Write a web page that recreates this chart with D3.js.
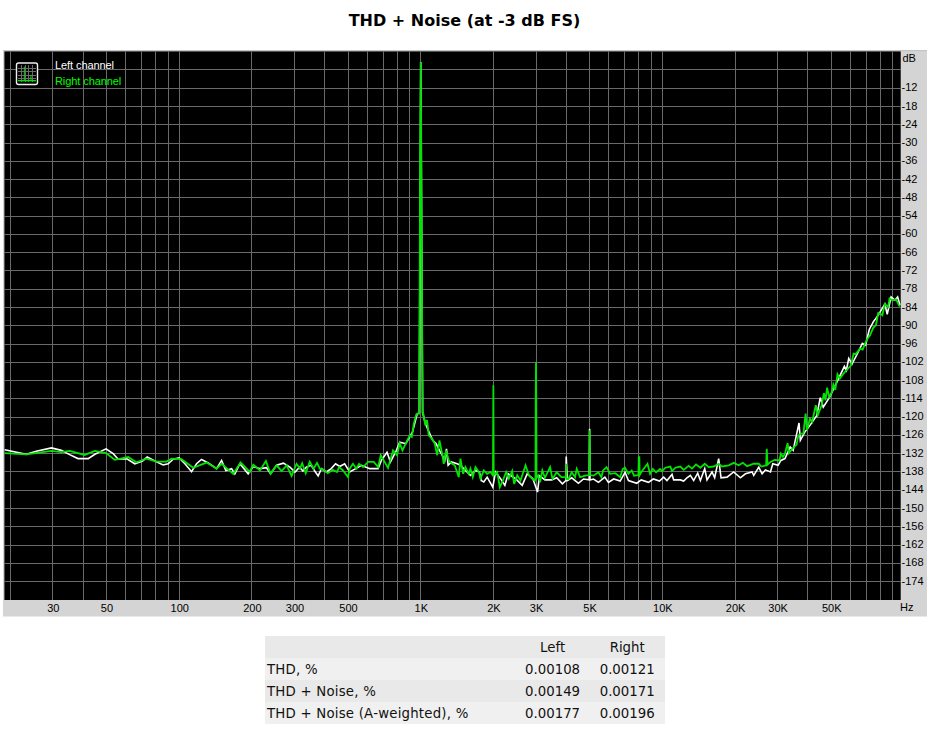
<!DOCTYPE html>
<html><head><meta charset="utf-8">
<script src="https://cdnjs.cloudflare.com/ajax/libs/d3/7.8.5/d3.min.js"></script>
<style>html,body{margin:0;padding:0;background:#fff}svg{display:block}</style>
</head><body><svg id="c" width="937" height="737"></svg>
<script>
const title = "THD + Noise (at -3 dB FS)";
const freqGrid = [20,30,40,50,60,70,80,90,100,200,300,400,500,600,700,800,900,1000,2000,3000,4000,5000,6000,7000,8000,9000,10000,20000,30000,40000,50000,60000,70000,80000,90000];
const freqTicks = [30,50,100,200,300,500,1000,2000,3000,5000,10000,20000,30000,50000];
const freqLabels = ["30","50","100","200","300","500","1K","2K","3K","5K","10K","20K","30K","50K"];
const dbGrid = d3.range(-6,-175,-6);
const dbTicks = d3.range(-12,-175,-6);
const seriesNames = ["Left channel","Right channel"];
const tableHead = ["","Left","Right"];
const tableRows = [
 ["THD, %","0.00108","0.00121"],
 ["THD + Noise, %","0.00149","0.00171"],
 ["THD + Noise (A-weighted), %","0.00177","0.00196"]];

const leftChannel = [[18.95,-130.7],[20.5,-131.3],[23.3,-132.2],[25.6,-131.2],[29.6,-130.1],[32.5,-130.9],[35.2,-132.3],[38.1,-133.6],[42,-133.6],[44.8,-132.2],[49.8,-130.4],[53.3,-132],[55.9,-133.8],[60.5,-133.6],[65.5,-135.3],[70.5,-134.4],[73.7,-133.1],[79.3,-134.4],[85.8,-135.7],[90,-135.3],[94.4,-133.8],[100,-133.4],[105.6,-135.3],[112.5,-137.9],[118,-135.3],[123.7,-133.9],[131.9,-135],[142.8,-136.9],[149.8,-134.2],[156,-137.5],[164.8,-136.9],[170,-138.6],[178.4,-135.3],[193,-138.6],[202.7,-136.2],[216,-136.9],[230,-136.6],[239,-138.6],[253,-135.8],[270,-135.1],[287.4,-136.4],[301.6,-138],
[315,-136.4],[325,-137.7],[336,-136.4],[352,-135.8],[364,-137.7],[376,-139.3],[388,-136.9],[407,-138],[426,-136.9],[444,-135.3],[462,-136.2],[484,-135.3],[508,-138],[538,-136.9],[568,-135.8],[615,-136.9],[666,-136.9],[687,-134.2],[725,-131.5],[749,-134.7],[793,-130.9],[818,-128.2],[867,-128.7],[924,-124.9],[966,-119],[986,-118.5],[1000,-3.4],[1018,-118.5],
[1045,-122.1],[1097,-126],[1121,-127.6],[1158,-128.7],[1195,-130.9],[1226,-132.5],[1257,-134.2],[1278,-130.4],[1298,-135.8],[1340,-134.7],[1414,-135.3],[1460,-135.8],[1531,-137.5],[1606,-139.1],[1685,-137.5],[1750,-138],[1778,-140.8],[1824,-141.3],[1883,-139.7],[1987,-143],[2039,-138],[2139,-140.2],[2229,-142.4],[2301,-138.6],[2468,-140.2],[2630,-142.4],[2758,-138.6],[2912,-140.2],[3044,-144.6],
[3100,-139.2],[3267,-140.6],[3484,-140.6],[3654,-139.9],[3857,-141.9],[3990,-140.8],[4000,-132.9],[4047,-140.8],[4217,-139.9],[4494,-141.7],[4717,-140.3],[4980,-140.6],[5000,-123.8],[5020,-140.6],[5190,-140.3],[5441,-141.4],[5781,-139.7],[5982,-141.4],[6290,-140.3],[6690,-141],[7010,-138.1],[7240,-140.8],[7840,-141.7],[8180,-140.6],[8760,-141.4],[9180,-140.3],[9730,-141],
[10130,-139.7],[10450,-140.8],[10970,-138.8],[11140,-140.6],[11870,-140.6],[12260,-141],[12650,-139.9],[13060,-139.1],[13480,-140.8],[14010,-138.4],[14370,-140.8],[14980,-136.9],[15310,-140.6],[16060,-138],[16470,-139.9],[17110,-133.6],[17500,-139.9],[18530,-139.7],[19740,-138],[21050,-139.9],[22080,-138.6],[23530,-138],[23900,-139.1],[25070,-136.4],[25880,-138.6],[26720,-137.3],[28030,-138],[28660,-135.3],[30150,-135.8],
[30960,-134.2],[32180,-133.6],[33830,-129.8],[34800,-130.9],[36800,-121.9],[37270,-127.6],[38880,-124.9],[40850,-122.7],[43600,-119.4],[45060,-113.6],[46370,-116.7],[49280,-113.4],[53400,-107.7],[56700,-103.3],[57800,-104.6],[59100,-100.7],[61000,-102.6],[64700,-98.6],[67300,-95.8],[69400,-96.4],[71900,-91.2],[74700,-88.7],[78300,-86.5],[83400,-82.9],[85300,-86.2],[88500,-80.5],[91800,-81.6],[94200,-80.5],[96300,-83.2]];

const rightChannel = [[18.95,-131.8],[23.3,-132.2],[29.6,-131.1],[32.5,-131.5],[35.2,-131.1],[40.6,-132.4],[44.8,-131.1],[49.8,-131.8],[54.1,-134],[61.5,-133.1],[66.5,-134.8],[73.2,-133.6],[80.6,-134.6],[88.6,-134.6],[93,-133.6],[102.2,-133.8],[114.3,-136.6],[129.8,-134.9],[142.8,-136.9],[149.8,-135.3],[167.4,-138.6],[179.5,-134.9],[196,-138],[202.7,-135.6],[216,-137.5],[228.6,-134.4],[239,-138.6],[253,-135.8],[265.5,-137.7],[278.5,-135.8],[292,-139.3],[306,-135.3],[316,-136.9],
[323,-135.1],[334,-138.4],[347,-134.6],[360,-136.9],[372,-135],[382,-136.9],[397,-137.3],[412,-138.4],[433,-137.3],[450,-138],[459,-136.4],[477,-137.5],[500,-139.7],[508,-136.9],[524,-135.3],[541,-136.9],[555,-135.3],[577,-136.4],[605,-134.7],[639,-134.7],[666,-136.4],[683,-132.5],[703,-134.2],[732,-136.7],[768,-130.9],[798,-132.5],[818,-128.5],[840,-130.9],[872,-128.2],[901,-126],[918,-126.5],[936,-122.1],[959,-119],[975,-118.8],[986,-118.8],[987,-100],[994,-40],[1000,-3.4],[1006,-40],[1015,-100],[1018,-118.6],[1023,-118.6],
[1045,-122.7],[1062,-121],[1079,-126],[1114,-127.1],[1143,-128.7],[1169,-132.5],[1195,-127.6],[1226,-132],[1245,-135.3],[1273,-130.9],[1306,-134.2],[1348,-135.3],[1383,-135.8],[1437,-139.7],[1460,-133.6],[1498,-138.6],[1531,-136.4],[1581,-138.6],[1606,-136.9],[1642,-139.7],[1685,-136.4],[1739,-138],[1767,-140.2],[1824,-137.5],[1883,-138.6],[1944,-138],[1987,-139.1],[1990,-139],[1998,-109.5],[2004,-139],[2072,-138],[2125,-143],[2187,-140.8],[2258,-138],[2316,-140.2],[2390,-137.7],[2436,-141.9],[2508,-139.1],[2588,-140.8],[2715,-135.8],[2802,-139.1],[2893,-140.2],[2968,-140.8],[2985,-140],[2992,-113],[3000,-102],[3006,-113],[3015,-140],
[3067,-139.2],[3116,-141.4],[3186,-137.5],[3267,-139.9],[3429,-136.4],[3510,-140.3],[3654,-138.1],[3823,-139.7],[3990,-139.7],[4000,-135.3],[4010,-140.3],[4086,-140.3],[4217,-138.1],[4352,-139.7],[4422,-137],[4566,-139.7],[4793,-139.2],[4985,-139],[5000,-124.3],[5015,-139],[5190,-139.2],[5441,-138.1],[5594,-139.7],[5685,-137.5],[5880,-136.4],[6080,-138.6],[6390,-138.4],[6690,-139.7],[6860,-137],[7010,-136.6],[7240,-138.6],[7470,-137.5],[7640,-139.2],[7960,-139],[7990,-133.1],[8030,-133.1],[8060,-139],[8180,-138.1],[8680,-135.3],[8900,-138.6],[9130,-137],[9420,-138.1],[9790,-137],
[9968,-137.7],[10290,-136.6],[10790,-136.2],[10970,-137.7],[11320,-136.6],[11870,-136.2],[12260,-137.3],[12850,-136],[13270,-136.9],[13790,-135.5],[14370,-136.6],[14980,-135.3],[15560,-136.4],[16320,-136.2],[17110,-135.3],[17670,-136.2],[18830,-135.8],[19740,-135],[20720,-135.8],[21530,-135],[22430,-136.1],[23900,-135.3],[25070,-135.3],[25720,-136.2],[26900,-135.8],[27060,-130.4],[27250,-135.6],[28030,-134.7],[29200,-134],[30540,-134.2],
[30960,-132],[31570,-133.1],[32180,-132],[33010,-128.5],[33400,-131.8],[34470,-130.4],[35970,-129],[36560,-126],[37510,-125.4],[38360,-125.4],[39190,-118.8],[39690,-124.3],[40850,-120.5],[41710,-121.6],[43170,-116.1],[44000,-119.4],[45650,-116.1],[46670,-112.1],[47340,-114.5],[48100,-110.3],[49010,-113.4],[50400,-111.7],[51040,-109.3],[52000,-111],[53100,-105.9],[54300,-107.3],[56200,-105.7],[57800,-104.6],[60400,-103],[61900,-99.1],[63200,-99.3],[65800,-97.5],[67500,-97.8],[70000,-94.7],[72400,-93.1],[74700,-90.6],[76600,-89.8],[78300,-85.8],[79800,-86],[81400,-86.5],[83400,-82.9],[86100,-83.8],[87200,-81],[89700,-81.6],[93000,-81.4],[95300,-83.2],[96300,-83.6]];

// small legend glyph values
const glyphBars = [[0.35,0.9],[0.72,0.42]];

const svg = d3.select("#c");
const ui = "'Liberation Sans',Arial,sans-serif", vd = "'DejaVu Sans',Verdana,sans-serif";
const x = d3.scaleLog().domain([18.9,97000]).range([4.4,900.7]);
const y = d3.scaleLinear().domain([0,-180]).range([51.7,599.9]);
const GRID="#6a6a6a";

svg.append("text").attr("x",464.5).attr("y",25.5).attr("text-anchor","middle")
  .style("font",`bold 16px ${vd}`).text(title);

svg.append("rect").attr("x",3).attr("y",50).attr("width",924).attr("height",566.5).attr("fill","#d4d4d4");
svg.append("rect").attr("x",3).attr("y",50).attr("width",924).attr("height",1.2).attr("fill","#c4c4c4");
svg.append("rect").attr("x",4.4).attr("y",51.4).attr("width",896.3).attr("height",548.6).attr("fill","#000");

const grid = svg.append("g").attr("stroke",GRID).attr("stroke-width",1).attr("shape-rendering","crispEdges");
grid.selectAll("line.v").data(freqGrid).join("line").attr("class","v")
  .attr("x1",d=>x(d)).attr("x2",d=>x(d)).attr("y1",51.4).attr("y2",600);
grid.selectAll("line.h").data(dbGrid).join("line").attr("class","h")
  .attr("x1",4.4).attr("x2",900.7).attr("y1",d=>y(d)).attr("y2",d=>y(d));

const line = d3.line().x(d=>x(d[0])).y(d=>y(d[1]));
svg.append("path").attr("d",line(leftChannel)).attr("fill","none").attr("stroke","#fff").attr("stroke-width",1.6).attr("stroke-linejoin","miter");
svg.append("path").attr("d",line(rightChannel)).attr("fill","none").attr("stroke","#00e400").attr("stroke-width",1.8).attr("stroke-linejoin","miter");

// axes
const ax = d3.axisBottom(x).tickValues(freqTicks).tickFormat((d,i)=>freqLabels[i]).tickSize(0).tickPadding(2);
const gx = svg.append("g").attr("transform","translate(0,600)").call(ax);
gx.select(".domain").remove();
gx.selectAll("text").style("font",`11px ${ui}`).attr("fill","#000").attr("dy","0.95em");
const ay = d3.axisRight(y).tickValues(dbTicks).tickFormat(d=>String(d)).tickSize(0).tickPadding(0);
const gy = svg.append("g").attr("transform","translate(901.5,-1)").call(ay);
gy.select(".domain").remove();
gy.selectAll("text").style("font",`11px ${ui}`).attr("fill","#000");
svg.append("text").attr("x",902.5).attr("y",62).style("font",`11px ${ui}`).text("dB");
svg.append("text").attr("x",900).attr("y",611).style("font",`11px ${ui}`).text("Hz");

// legend
const lg = svg.append("g");
lg.append("rect").attr("x",16.5).attr("y",63).attr("width",21).attr("height",21.5).attr("rx",2).attr("fill","#000").attr("stroke","#eee").attr("stroke-width",1.4);
const gxs = d3.scaleLinear().domain([0,1]).range([18,36]), gys = d3.scaleLinear().domain([0,1]).range([82,65]);
[0.2,0.4,0.6,0.8].forEach(t=>{
  lg.append("line").attr("x1",gxs(t)).attr("x2",gxs(t)).attr("y1",65).attr("y2",82).attr("stroke",GRID).attr("shape-rendering","crispEdges");
  lg.append("line").attr("y1",gys(t)).attr("y2",gys(t)).attr("x1",18).attr("x2",36).attr("stroke",GRID).attr("shape-rendering","crispEdges");
});
lg.append("line").attr("x1",18).attr("x2",36).attr("y1",gys(0.08)).attr("y2",gys(0.08)).attr("stroke","#00e400").attr("stroke-width",1.4);
glyphBars.forEach(d=>lg.append("line").attr("x1",gxs(d[0])).attr("x2",gxs(d[0])).attr("y1",gys(0.08)).attr("y2",gys(d[1])).attr("stroke","#00e400"));
seriesNames.forEach((n,i)=>svg.append("text").attr("x",55).attr("y",69+16*i)
  .attr("fill",i?"#00ff00":"#fff").style("font",`11px ${ui}`).style("letter-spacing","-0.08px").text(n));

// table
const rowY = d3.scaleBand().domain(d3.range(4)).range([636,724]);
const allRows = [tableHead].concat(tableRows);
svg.selectAll("rect.row").data(allRows).join("rect").attr("class","row")
  .attr("x",265).attr("width",400).attr("y",(d,i)=>rowY(i)).attr("height",rowY.bandwidth())
  .attr("fill",(d,i)=>i%2?"#f0f0f0":"#e9e9e9");
allRows.forEach((r,i)=>{
  const by = rowY(i)+rowY.bandwidth()/2+4.7;
  svg.append("text").attr("x",267).attr("y",by).style("font",`13.3px ${vd}`).style("letter-spacing","0.22px").attr("fill","#111").text(r[0]);
  svg.append("text").attr("x",552.6).attr("y",by).attr("text-anchor","middle").style("font",`13.3px ${vd}`).attr("fill","#111").text(r[1]);
  svg.append("text").attr("x",627.2).attr("y",by).attr("text-anchor","middle").style("font",`13.3px ${vd}`).attr("fill","#111").text(r[2]);
});
</script></body></html>
